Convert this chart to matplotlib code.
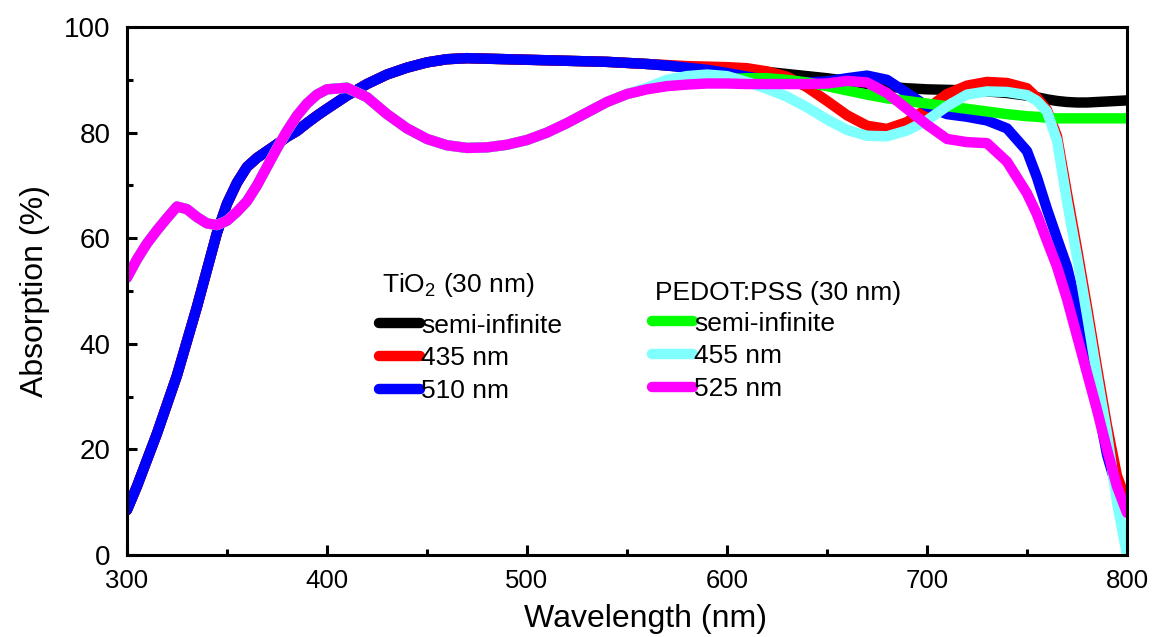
import numpy as np
import matplotlib
matplotlib.use("Agg")
from matplotlib import pyplot as plt

plt.rcParams['font.family'] = ['Liberation Sans', 'DejaVu Sans']
plt.rcParams['mathtext.default'] = 'regular'
plt.rcParams['lines.solid_capstyle'] = 'round'
plt.rcParams['lines.solid_joinstyle'] = 'round'

# wavelength grid (nm)
wl = np.r_[np.arange(300, 400, 5), np.arange(400, 750, 10), np.arange(750, 801, 5)]

# TiO2 curves share the short-wavelength part (300-550 nm)
tio2_common = [8.5, 13, 18, 23, 28.5, 34, 40.5, 47, 54, 61,
               66.5, 70.5, 73.5, 75.2, 76.5, 77.8, 79.2, 80.3, 81.8, 83.2,
               84.5, 87, 89.2, 91, 92.3, 93.3, 93.9, 94.1, 94.0, 93.9,
               93.8, 93.7, 93.6, 93.5, 93.4, 93.2]
# 560-800 nm
tio2_semi_tail = [93.0, 92.7, 92.4, 92.2, 92.0, 91.8, 91.5, 91.1, 90.7, 90.3,
                  89.8, 89.2, 88.7, 88.4, 88.2, 88.1, 88.0, 87.8, 87.5,
                  87.0, 86.7, 86.3, 86.0, 85.8, 85.7, 85.7, 85.8, 85.9, 86.0, 86.1]
tio2_435_tail = [93.0, 92.8, 92.6, 92.5, 92.4, 92.2, 91.6, 90.6, 88.6, 86.0,
                 83.3, 81.3, 80.7, 82.0, 84.5, 87.3, 88.9, 89.6, 89.4,
                 88.4, 86.6, 84.3, 79.3, 68.5, 58.0, 47.0, 35.5, 24.5, 15.0, 10.0]
tio2_510_tail = [93.0, 92.7, 92.3, 91.9, 91.3, 90.6, 90.0, 89.6, 89.5, 89.7,
                 90.3, 90.8, 90.0, 87.5, 85.0, 83.5, 83.0, 82.3, 80.8,
                 76.5, 71.5, 65.5, 60.0, 54.6, 47.0, 38.5, 29.0, 19.0, 12.5, 8.5]

# PEDOT:PSS curves share the short-wavelength part (300-550 nm)
pedot_common = [52.5, 56, 59, 61.5, 63.8, 66, 65.5, 64, 62.8, 62.5,
                63.3, 65, 67, 70, 73.5, 77, 80.3, 83.2, 85.5, 87.2,
                88.2, 88.5, 86.7, 83.5, 80.8, 78.8, 77.6, 77.1, 77.2, 77.7,
                78.6, 80.0, 81.8, 83.8, 85.8, 87.3]
pedot_semi_tail = [88.3, 88.9, 89.4, 89.8, 90.1, 90.3, 90.3, 90.0, 89.5, 88.8,
                   88.0, 87.2, 86.5, 86.0, 85.5, 85.0, 84.5, 84.0, 83.5,
                   83.1, 83.0, 82.8, 82.7, 82.7, 82.7, 82.7, 82.7, 82.7, 82.7, 82.7]
pedot_455_tail = [88.5, 90.0, 90.7, 91.0, 90.7, 89.6, 88.3, 86.8, 84.8, 82.5,
                  80.5, 79.4, 79.3, 80.4, 82.3, 85.0, 87.2, 87.8, 87.7,
                  87.1, 86.0, 84.0, 78.5, 67.0, 56.5, 45.5, 34.0, 23.0, 10.0, 0.0]
pedot_525_tail = [88.2, 88.8, 89.1, 89.3, 89.3, 89.2, 89.2, 89.2, 89.2, 89.3,
                  89.8, 89.5, 87.5, 84.5, 81.5, 78.8, 78.2, 78.0, 74.5,
                  68.5, 64.5, 59.5, 54.6, 48.5, 41.5, 34.5, 27.5, 20.0, 13.0, 8.0]

tio2_labels = ['semi-infinite', '435 nm', '510 nm']
pedot_labels = ['semi-infinite', '455 nm', '525 nm']
tio2_colors = ['black', 'red', 'blue']
pedot_colors = ['#00ff00', '#80ffff', '#ff00ff']

tio2 = [tio2_common + tio2_semi_tail, tio2_common + tio2_435_tail, tio2_common + tio2_510_tail]
pedot = [pedot_common + pedot_semi_tail, pedot_common + pedot_455_tail, pedot_common + pedot_525_tail]

fig = plt.figure(figsize=(11.54, 6.37), dpi=100)
ax = fig.add_axes([0.110, 0.1287, 0.8666, 0.8289])

lw = 7.5
h1 = [ax.plot(wl, y, color=c, lw=lw, label=l)[0] for y, c, l in zip(tio2, tio2_colors, tio2_labels)]
h2 = [ax.plot(wl, y, color=c, lw=lw, label=l)[0] for y, c, l in zip(pedot, pedot_colors, pedot_labels)]

ax.set_xlim(300, 800)
ax.set_ylim(0, 100)
ax.set_xticks(range(300, 801, 100))
ax.set_xticks(range(350, 800, 100), minor=True)
ax.set_yticks(range(0, 101, 20))
ax.set_yticks(range(10, 100, 20), minor=True)
ax.tick_params(which='both', direction='in', width=2.2)
ax.tick_params(which='major', length=7)
ax.tick_params(which='minor', length=4.5)
ax.tick_params(axis='x', labelsize=18.5, pad=10)
ax.tick_params(axis='y', labelsize=20, pad=12)
for s in ax.spines.values():
    s.set_linewidth(2.2)
ax.set_xlabel('Wavelength (nm)', fontsize=23, labelpad=8, x=0.519)
ax.set_ylabel('Absorption (%)', fontsize=23, labelpad=10)

# group titles
ax.text(0.255, 0.511, 'TiO$_2$ (30 nm)', transform=ax.transAxes, fontsize=19, va='center')
ax.text(0.528, 0.496, 'PEDOT:PSS (30 nm)', transform=ax.transAxes, fontsize=19, va='center')

kw = dict(frameon=False, fontsize=19, handlelength=1.55, handletextpad=0.05,
          labelspacing=0.33, borderpad=0, borderaxespad=0, loc='upper left')
leg1 = ax.legend(handles=h1, bbox_to_anchor=(0.252, 0.457), **kw)
ax.add_artist(leg1)
ax.legend(handles=h2, bbox_to_anchor=(0.525, 0.461), **kw)

fig.savefig('out.png', dpi=100)
